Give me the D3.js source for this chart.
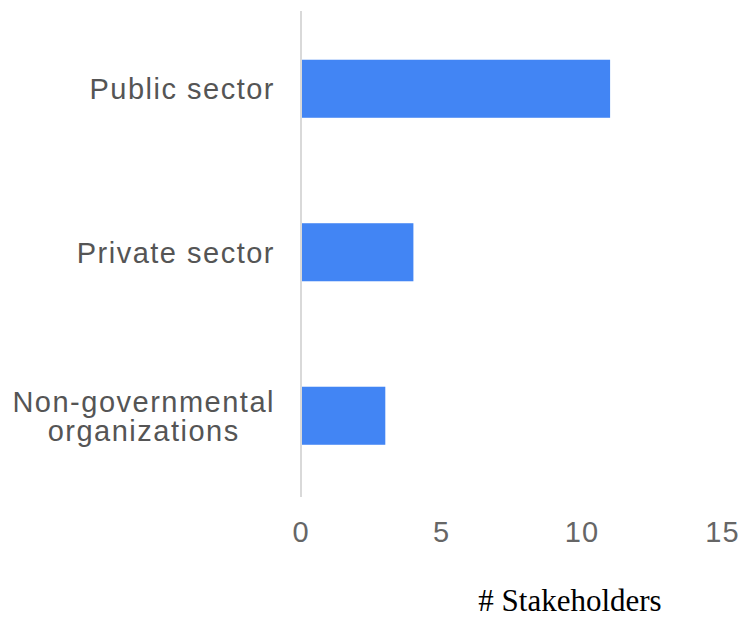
<!DOCTYPE html>
<html>
<head>
<meta charset="utf-8">
<script src="https://cdn.jsdelivr.net/npm/d3@7"></script>
<style>
  html, body { margin: 0; padding: 0; background: #fff; }
  svg { display: block; }
</style>
</head>
<body>
<svg id="chart" width="743" height="619"></svg>
<script>
// Stakeholder counts by sector
const categories = ["Public sector", "Private sector", "Non-governmental organizations"];
const categoryLines = [["Public sector"], ["Private sector"], ["Non-governmental", "organizations"]];
const stakeholders = [11, 4, 3];
const tickValues = [0, 5, 10, 15];
const axisTitle = "# Stakeholders";

const svg = d3.select("#chart");

const x = d3.scaleLinear().domain([0, 15]).range([301, 722.5]);
const y = d3.scaleBand()
  .domain(categories)
  .range([7, 497.5])
  .paddingInner(0.645)
  .paddingOuter(0.3225);

// Baseline (zero) axis line
svg.append("line")
  .attr("x1", x(0)).attr("x2", x(0))
  .attr("y1", 11).attr("y2", 497)
  .attr("stroke", "#d9d9d9")
  .attr("stroke-width", 2);

// Bars
svg.append("g")
  .selectAll("rect")
  .data(categories)
  .join("rect")
  .attr("x", x(0) + 1)
  .attr("y", d => y(d))
  .attr("width", (d, i) => x(stakeholders[i]) - x(0) - 1)
  .attr("height", y.bandwidth())
  .attr("fill", "#4285f4");

// Category labels: block right-aligned to the axis, lines centred within the block
const labelFont = "'Liberation Sans', Arial, sans-serif";
const labelRight = 275;
const labels = svg.append("g")
  .selectAll("text")
  .data(categories)
  .join("text")
  .attr("text-anchor", "middle")
  .attr("font-family", labelFont)
  .attr("font-size", 29)
  .attr("letter-spacing", 1.5)
  .attr("fill", "#555");

labels.each(function(d, i) {
  const lines = categoryLines[i];
  const cy = y(d) + y.bandwidth() / 2;
  const lh = 29;
  const first = cy + 10.5 - (lines.length - 1) * lh / 2;
  const spans = d3.select(this).selectAll("tspan")
    .data(lines)
    .join("tspan")
    .attr("y", (t, j) => first + j * lh)
    .text(t => t);
  let maxW = 0;
  spans.each(function() { maxW = Math.max(maxW, this.getComputedTextLength()); });
  spans.attr("x", labelRight - maxW / 2);
});

// Tick labels
svg.append("g")
  .selectAll("text")
  .data(tickValues)
  .join("text")
  .attr("x", d => x(d))
  .attr("y", 542)
  .attr("text-anchor", "middle")
  .attr("font-family", labelFont)
  .attr("font-size", 29)
  .attr("letter-spacing", 1)
  .attr("fill", "#666")
  .text(d => d);

// Axis title
svg.append("text")
  .attr("x", 570)
  .attr("y", 611)
  .attr("text-anchor", "middle")
  .attr("font-family", "'Liberation Serif', 'Times New Roman', serif")
  .attr("font-size", 31)
  .attr("fill", "#000")
  .text(axisTitle);
</script>
</body>
</html>
